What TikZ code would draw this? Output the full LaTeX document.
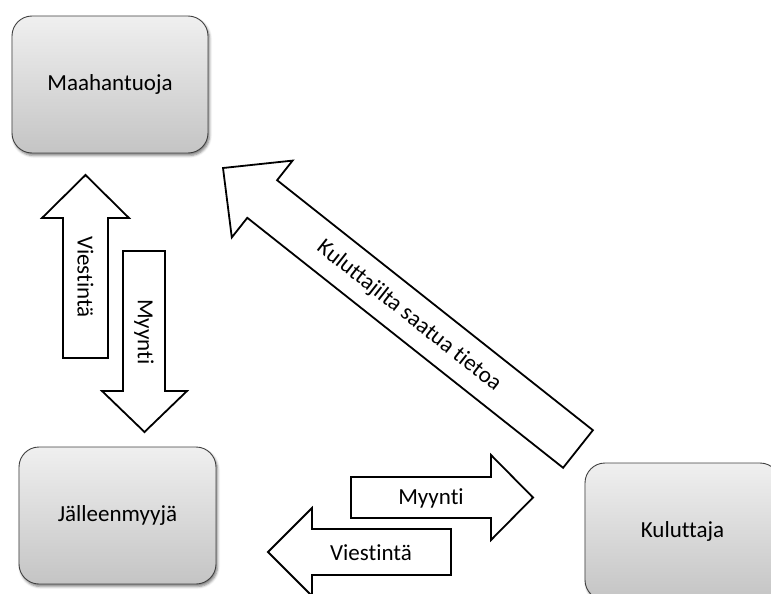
\documentclass[tikz,border=0pt]{standalone}
\usepackage{fontspec}
\setmainfont{Carlito}[RawFeature=-liga]
\usetikzlibrary{shadows.blur}
\begin{document}
\begin{tikzpicture}[x=1pt,y=-1pt,
  entity/.style={draw=black!75, line width=0.9pt, rounded corners=20pt,
    top color=gray!12, bottom color=gray!46,
    minimum height=137pt, inner sep=0pt,
    blur shadow={shadow xshift=1.5pt, shadow yshift=-2.5pt,
      shadow blur radius=2.5pt, shadow opacity=50},
    font=\fontsize{23}{27}\selectfont},
  blockarrow/.style={draw=black, line width=1.8pt, fill=white, line join=miter},
  lbl/.style={font=\fontsize{23}{27}\selectfont, inner sep=0pt}]
  \useasboundingbox (0,0) rectangle (771,594);

  % parties
  \node[entity, minimum width=196pt] (maa) at (110,84.5) {Maahantuoja};
  \node[entity, minimum width=197pt] (jal) at (117.5,515.5) {Jälleenmyyjä};
  \node[entity, minimum width=195pt] (kul) at (682.5,531.5) {Kuluttaja};

  % block arrows between the parties
  \draw[blockarrow] (63,358) -- (63,218) -- (42,218) -- (85.5,175)
    -- (129,218) -- (108,218) -- (108,358) -- cycle;
  \draw[blockarrow] (123,251) -- (165,251) -- (165,391) -- (187,391)
    -- (144.5,432) -- (102,391) -- (123,391) -- cycle;
  \draw[blockarrow] (351,477) -- (491,477) -- (491,455) -- (533,497.5)
    -- (491,540) -- (491,518) -- (351,518) -- cycle;
  \draw[blockarrow] (451,529) -- (312,529) -- (312,508) -- (268,552)
    -- (312,596) -- (312,575) -- (451,575) -- cycle;
  \draw[blockarrow] (592.9,430.2) -- (277.1,180.2) -- (292.6,160.6)
    -- (223,168) -- (231.8,237.4) -- (247.3,217.8) -- (563.1,467.8) -- cycle;

  % arrow labels
  \node[lbl, rotate=-90] (vup) at (85.5,277) {Viestintä};
  \node[lbl, rotate=-90] (mdown) at (144,332) {Myynti};
  \node[lbl] (mright) at (431,498) {Myynti};
  \node[lbl] (vleft) at (371,553) {Viestintä};
  \node[lbl, rotate=-38.4] (info) at (409,316) {Kuluttajilta saatua tietoa};
\end{tikzpicture}
\end{document}
